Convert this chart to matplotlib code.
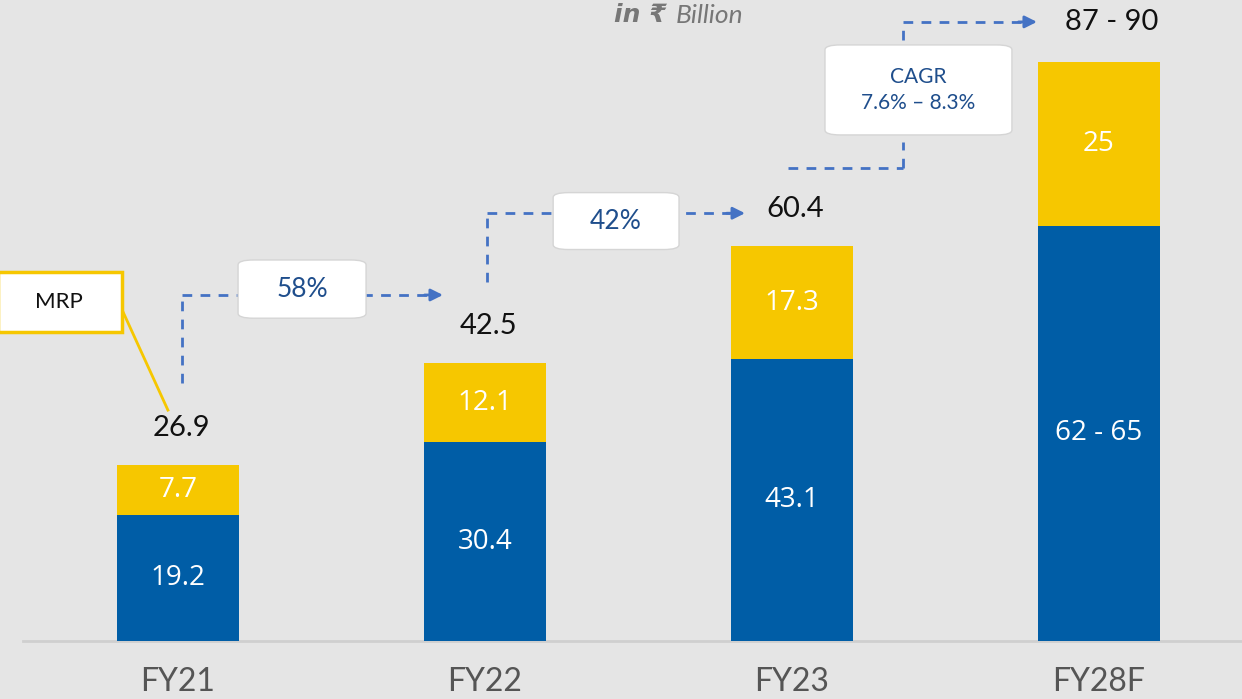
import matplotlib.pyplot as plt
from matplotlib.patches import FancyBboxPatch, Rectangle

categories = ["FY21", "FY22", "FY23", "FY28F"]
mrp_base = [19.2, 30.4, 43.1, 63.5]      # FY28F drawn at mid of 62 - 65
mrp_top = [7.7, 12.1, 17.3, 25]
base_labels = ["19.2", "30.4", "43.1", "62 - 65"]
top_labels = ["7.7", "12.1", "17.3", "25"]
total_labels = ["26.9", "42.5", "60.4", "87 - 90"]
growth_labels = ["58%", "42%", "CAGR\n7.6% – 8.3%"]

BLUE = "#005DA6"
YELLOW = "#F6C700"
DASH = "#4472C4"
NAVY = "#1F4E8C"
HAND = ["Lato", "DejaVu Sans"]

fig = plt.figure(figsize=(12.42, 6.99), dpi=100)
fig.patch.set_facecolor("#e5e5e5")
ax = fig.add_axes([0, 0, 1, 1])
ax.set_facecolor("#e5e5e5")
ax.set_xlim(-0.58, 3.466)
ax.set_ylim(-8.87, 98.0)
ax.axis("off")

x = list(range(len(categories)))
width = 0.397
ax.bar(x, mrp_base, width, color=BLUE, zorder=3)
ax.bar(x, mrp_top, width, bottom=mrp_base, color=YELLOW, zorder=3)
ax.plot([-0.505, 3.466], [0, 0], color="#cfcfcf", lw=2, zorder=2)

totals = [b + t for b, t in zip(mrp_base, mrp_top)]
for i in x:
    ax.text(i, mrp_base[i] / 2, base_labels[i], ha="center", va="center",
            color="white", fontsize=20, family=["Open Sans", "DejaVu Sans"], zorder=4)
    ax.text(i, mrp_base[i] + mrp_top[i] / 2, top_labels[i], ha="center", va="center",
            color="white", fontsize=20, family=["Open Sans", "DejaVu Sans"], zorder=4)
    ax.text(i, -6.3, categories[i], ha="center", va="center", color="#555555",
            fontsize=23, family=HAND, zorder=4)

for i in range(3):
    ax.text(i + 0.01, totals[i] + 5.7, total_labels[i], ha="center", va="center",
            color="#111111", fontsize=21, family=HAND, fontweight="normal", zorder=4)
ax.text(3.04, 94.6, total_labels[3], ha="center", va="center",
        color="#111111", fontsize=21, family=HAND, fontweight="normal", zorder=4)

dash_kw = dict(color=DASH, lw=2, ls=(0, (3.5, 3)), zorder=3)


def arrow_to(x0, x1, y):
    ax.annotate("", xy=(x1, y), xytext=(x1 - 0.06, y),
                arrowprops=dict(arrowstyle="-|>", color=DASH, lw=2,
                                mutation_scale=18, shrinkA=0, shrinkB=0), zorder=3)
    ax.plot([x0, x1 - 0.05], [y, y], **dash_kw)


def growth_box(cx, cy, w, h, label, size):
    box = FancyBboxPatch((cx - w / 2, cy - h / 2), w, h,
                         boxstyle="round,pad=0,rounding_size=0.05",
                         mutation_aspect=15, facecolor="white",
                         edgecolor="#d5d5d5", lw=1, zorder=5)
    ax.add_patch(box)
    ax.text(cx, cy, label, ha="center", va="center", color=NAVY,
            fontsize=size, family=HAND, linespacing=1.4, zorder=6)


# FY21 -> FY22
ax.plot([0.013, 0.013], [39.4, 52.9], **dash_kw)
arrow_to(0.013, 0.863, 52.9)
growth_box(0.404, 53.8, 0.417, 8.9, growth_labels[0], 19)

# FY22 -> FY23
ax.plot([1.006, 1.006], [54.9, 65.4], **dash_kw)
arrow_to(1.006, 1.847, 65.4)
growth_box(1.427, 64.2, 0.41, 8.7, growth_labels[1], 19)

# FY23 -> FY28F
ax.plot([1.987, 2.362], [72.3, 72.3], **dash_kw)
ax.plot([2.362, 2.362], [72.3, 76.3], **dash_kw)
ax.plot([2.362, 2.362], [91.9, 94.65], **dash_kw)
arrow_to(2.362, 2.798, 94.65)
growth_box(2.412, 84.25, 0.609, 13.76, growth_labels[2], 15)

# MRP legend box
ax.add_patch(Rectangle((-0.585, 47.2), 0.403, 9.2, facecolor="white",
                       edgecolor=YELLOW, lw=2.5, zorder=5))
ax.text(-0.388, 51.8, "MRP", ha="center", va="center", color="#111111",
        fontsize=16, family=HAND, zorder=6)
ax.plot([-0.182, -0.033], [50.6, 35.3], color=YELLOW, lw=2, zorder=4)

# unit note at top
ax.text(1.62, 95.7, "in ₹ ", ha="right", va="center", color="#777777",
        fontsize=18, style="italic", fontweight="bold", family="DejaVu Sans")
ax.text(1.62, 95.7, "Billion", ha="left", va="center", color="#777777",
        fontsize=19, style="italic", family=HAND)

fig.savefig("out.png", dpi=100, facecolor=fig.get_facecolor())
